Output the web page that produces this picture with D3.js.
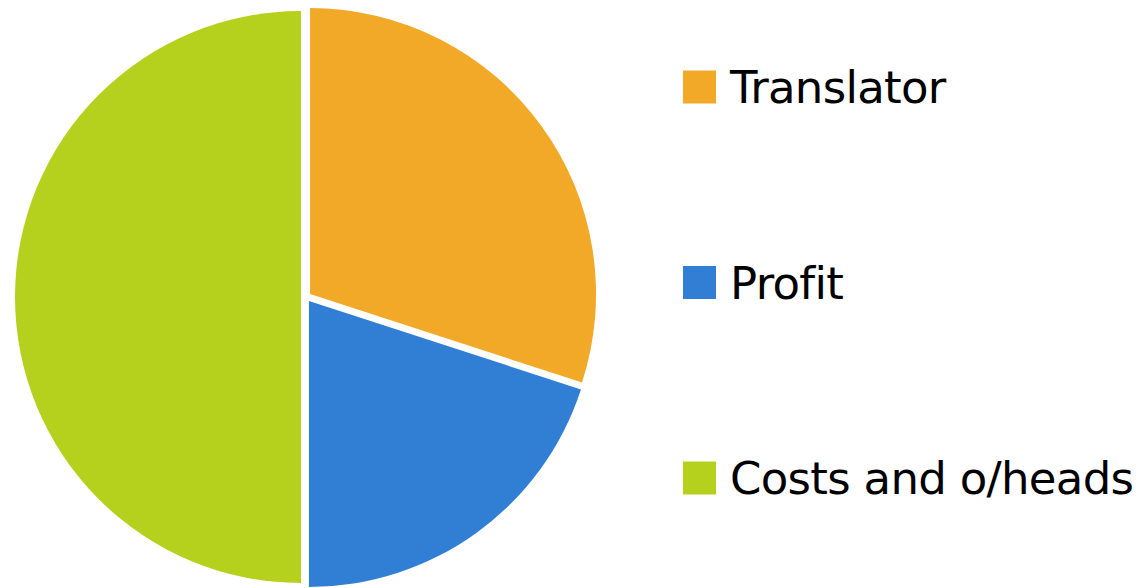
<!DOCTYPE html>
<html>
<head>
<meta charset="utf-8">
<script src="https://cdn.jsdelivr.net/npm/d3@7"></script>
<style>
  html, body { margin: 0; padding: 0; background: #ffffff; }
  svg { display: block; }
</style>
</head>
<body>
<div id="chart"></div>
<script>
// 数据
const categories = ["Translator", "Profit", "Costs and o/heads"];
const shares = [30, 20, 50];
const colors = ["#F2A928", "#317FD4", "#B5D11E"];

const W = 1144, H = 588;
const cx = 306, cy = 297, radius = 286, explode = 5;

const svg = d3.select("#chart")
    .append("svg")
    .attr("width", W)
    .attr("height", H);

const data = categories.map((c, i) => ({ name: c, value: shares[i] }));

const color = d3.scaleOrdinal().domain(categories).range(colors);

// 饼图（保持原顺序，从12点方向顺时针）
const pie = d3.pie().sort(null).value(d => d.value);
const arc = d3.arc().innerRadius(0).outerRadius(radius);

const g = svg.append("g").attr("transform", `translate(${cx},${cy})`);

g.selectAll("path.slice")
    .data(pie(data))
    .join("path")
    .attr("class", "slice")
    .attr("d", arc)
    .attr("fill", d => color(d.data.name))
    .attr("transform", d => {
        const mid = (d.startAngle + d.endAngle) / 2;
        return `translate(${Math.sin(mid) * explode},${-Math.cos(mid) * explode})`;
    });

// 图例
const legendY = d3.scalePoint()
    .domain(categories)
    .range([87, 478]);

const legend = svg.append("g");

const rows = legend.selectAll("g.row")
    .data(categories)
    .join("g")
    .attr("class", "row")
    .attr("transform", d => `translate(683,${legendY(d)})`);

rows.append("rect")
    .attr("x", 0)
    .attr("y", -16.5)
    .attr("width", 33)
    .attr("height", 33)
    .attr("fill", d => color(d));

rows.append("text")
    .attr("x", 47)
    .attr("y", 16)
    .attr("fill", "#000")
    .style("font-family", "'DejaVu Sans', sans-serif")
    .style("font-size", "45px")
    .style("letter-spacing", "-0.7px")
    .text(d => d);
</script>
</body>
</html>
